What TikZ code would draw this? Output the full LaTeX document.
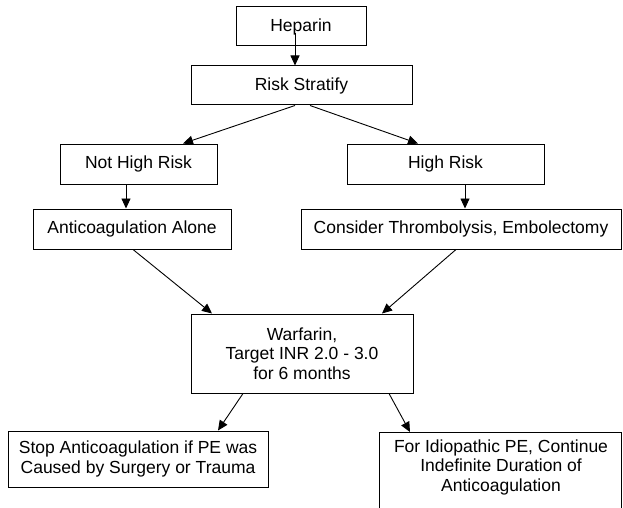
\documentclass[tikz,border=0pt]{standalone}
\usepackage{fontspec}
\setmainfont{Liberation Sans}
\usetikzlibrary{arrows.meta}
\begin{document}
\begin{tikzpicture}[x=1pt,y=-1pt,
  box/.style={draw=black, line width=1pt, inner sep=0pt, align=center,
    font=\fontsize{17.5}{19.5}\selectfont},
  txt/.style={inner sep=0pt, align=center, font=\fontsize{17.5}{19.5}\selectfont},
  arr/.style={draw=black, line width=0.9pt, -{Triangle[length=10pt,width=9pt]}}]
\useasboundingbox (0,0) rectangle (623,508);
\clip (0,0) rectangle (623,508);
\fill[white] (0,0) rectangle (623,508);

\node[box, minimum width=130pt, minimum height=39pt] (hep) at (301,26.5) {Heparin};
\node[box, minimum width=221pt, minimum height=39pt] (rs) at (301.5,85.5) {Risk Stratify};
\node[box, minimum width=157pt, minimum height=40pt] (nhr) at (138.5,164) {Not High Risk};
\node[box, minimum width=197pt, minimum height=40pt] (hr) at (445.5,164) {High Risk};
\node[box, minimum width=198pt, minimum height=40pt] (aa) at (132,229) {Anticoagulation Alone};
\node[box, minimum width=320pt, minimum height=40pt] (ct) at (461,229) {Consider Thrombolysis, Embolectomy};
\node[box, minimum width=222pt, minimum height=79pt] (w) at (302,353.5) {Warfarin,\\Target INR 2.0 - 3.0\\for 6 months};
\node[box, minimum width=260pt, minimum height=56pt] (stop) at (138,459) {Stop Anticoagulation if PE was\\Caused by Surgery or Trauma};
\node[box, minimum width=242pt, minimum height=120pt, anchor=north] (forbox) at (500,432) {};
\node[txt] (fortxt) at (501,467) {For Idiopathic PE, Continue\\Indefinite Duration of\\Anticoagulation};

\coordinate (hs) at (295,33);
\draw[arr] (hs) -- (hs |- rs.north);
\draw[arr] ([xshift=-6.5pt]rs.south) -- ([xshift=44.5pt]nhr.north);
\draw[arr] ([xshift=8.5pt]rs.south) -- ([xshift=-27.5pt]hr.north);
\draw[arr] ([xshift=-12.5pt]nhr.south) -- ([xshift=-12.5pt]nhr.south |- aa.north);
\draw[arr] ([xshift=19.5pt]hr.south) -- ([xshift=19.5pt]hr.south |- ct.north);
\draw[arr] ([xshift=1pt]aa.south) -- ([xshift=-90pt]w.north);
\draw[arr] ([xshift=-5pt]ct.south) -- ([xshift=80pt]w.north);
\draw[arr] ([xshift=-59pt]w.south) -- ([xshift=80pt]stop.north);
\draw[arr] ([xshift=87pt]w.south) -- ([xshift=-90pt]forbox.north);
\end{tikzpicture}
\end{document}
